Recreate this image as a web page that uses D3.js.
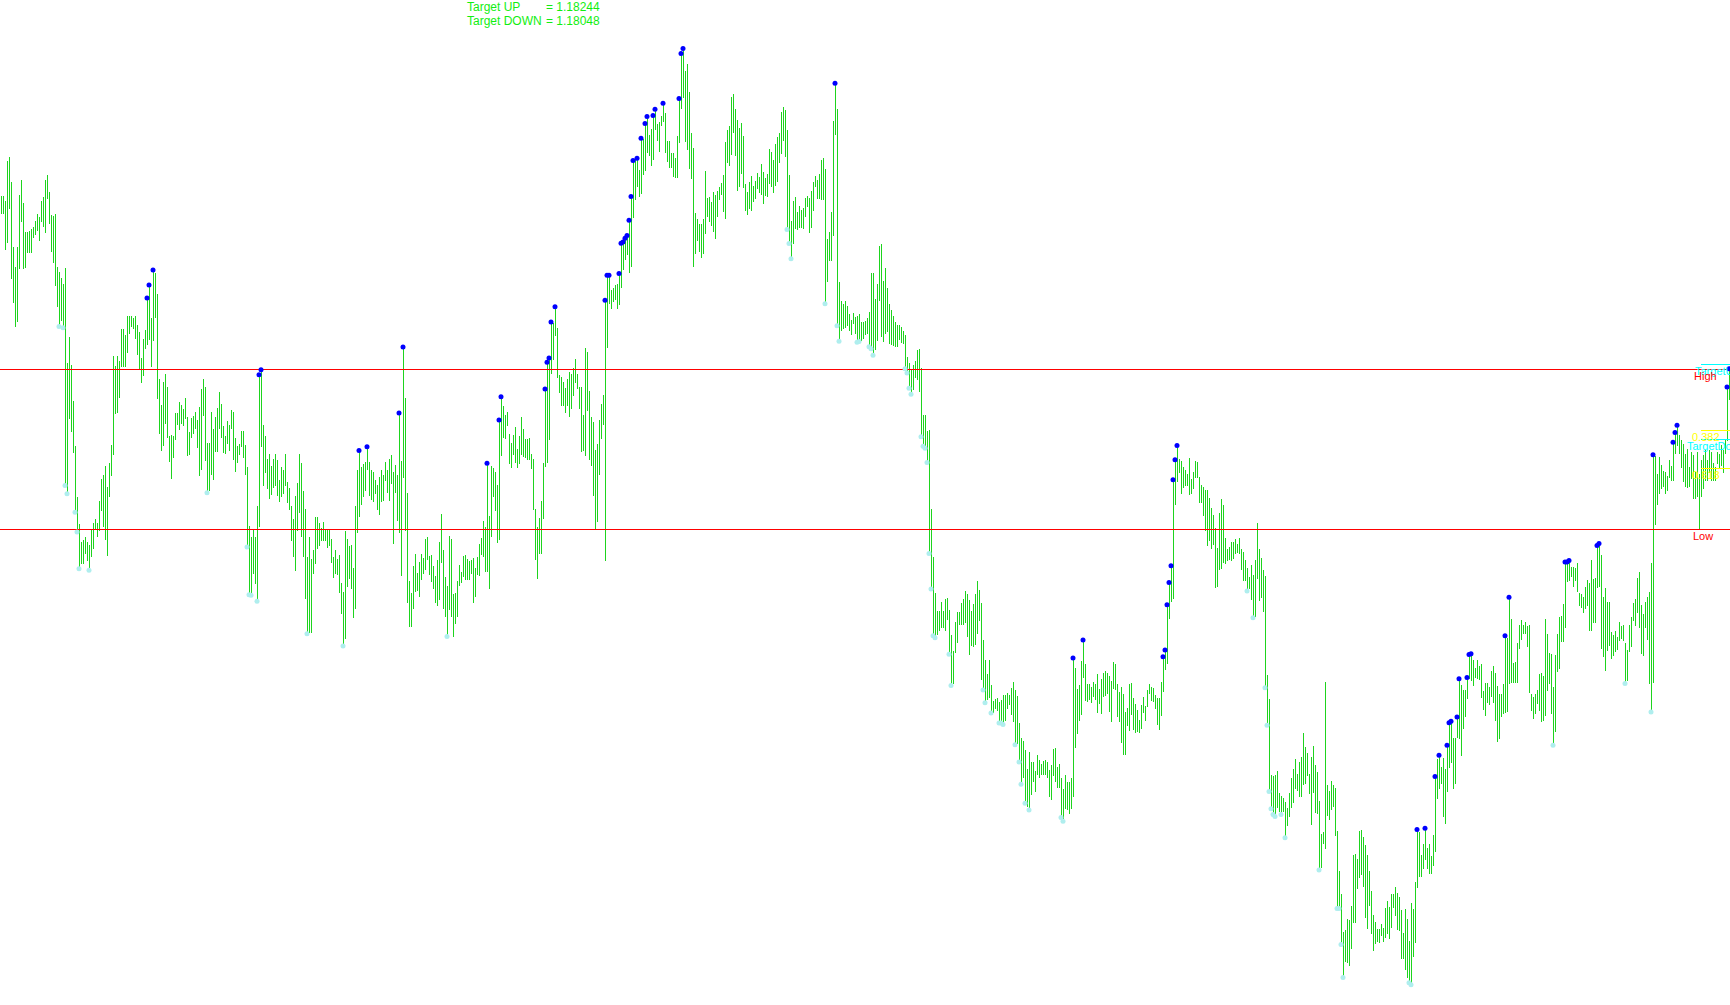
<!DOCTYPE html>
<html>
<head>
<meta charset="utf-8">
<script src="https://cdn.jsdelivr.net/npm/d3@7"></script>
<style>
html,body{margin:0;padding:0;background:#fff;overflow:hidden;}
svg{display:block;}
</style>
</head>
<body>
<svg id="chart" width="1730" height="1005"></svg>
<script>
// Prices are expressed in points (1 point = 0.00001)
const highPts = [
118685,118685,118672,118777,118786,118720,118552,118500,118552,118688,
118725,118665,118591,118589,118594,118599,118604,118620,118638,118629,
118672,118683,118727,118738,118694,118636,118633,118638,118500,118485,
118469,118454,118496,118249,118315,118244,118148,118030,117899,117827,
117781,117786,117792,117779,117771,117815,117831,117841,117831,117888,
117945,117956,117979,117925,117986,118033,118266,118239,118267,118254,
118338,118338,118320,118370,118372,118370,118365,118372,118348,118330,
118262,118311,118334,118418,118452,118365,118491,118483,118427,118205,
118139,118199,118220,118184,118057,118061,118057,118116,118116,118147,
118137,118127,118156,118106,118067,118104,118110,118121,118098,118134,
118181,118207,118186,118040,118040,118121,118075,118106,118130,118173,
118141,118084,118058,118097,118087,118126,118121,118053,118032,118037,
118071,118071,118033,117975,117823,117793,117815,117793,117874,118217,
118230,118087,118057,117996,118011,117979,117996,118009,117995,117941,
117977,117969,118009,117938,117920,
117875,117839,117901,117934,118011,117986,117914,117867,117740,117792,
117735,117759,117845,117846,117831,117818,117833,117814,117815,117814,
117789,117740,117758,117735,117747,117674,117649,117808,117788,117769,
117772,117711,117873,117969,118019,117975,117985,117990,118029,117988,
117967,117962,117941,117930,117951,117969,117956,117988,117967,117998,
118007,117964,117982,117954,118117,117993,118290,118156,117907,117677,
117648,117717,117750,117699,117727,117750,117738,117787,117792,117744,
117745,117718,117692,117732,117779,117853,117758,117688,117666,117797,
117787,117644,117646,117679,117721,117702,117744,117745,117737,117730,
117734,117738,117711,117740,117774,117791,117834,117819,117986,117849,
117978,117974,117962,117928,118099,118160,118135,118113,118119,118062,
118038,118059,118080,118022,118056,118108,118075,118049,118049,118051,
118009,117996,117867,117820,117842,117887,117986,118180,118250,118261,
118355,118352,118395,118339,118216,118212,118199,118183,118205,118224,
118219,118235,118258,118219,118186,
118186,118111,118287,118277,118175,118107,118094,118021,118036,118100,
118142,118164,118412,118477,118477,118438,118443,118453,118455,118482,
118561,118564,118574,118581,118621,118683,118777,118780,118783,118753,
118835,118833,118874,118892,118844,118859,118895,118911,118873,118877,
118893,118927,118901,118829,118827,118798,118798,118783,118842,118939,
119057,119070,119010,119029,118957,118849,118811,118639,118624,118610,
118610,118624,118749,118678,118681,118668,118696,118687,118698,118709,
118718,118738,118826,118857,118868,118943,118950,118912,118884,118862,
118874,118840,118715,118694,118721,118736,118711,118724,118745,118734,
118769,118746,118731,118742,118808,118799,118778,118821,118838,118849,
118904,118917,118908,118857,118740,118618,118671,118681,118642,118658,
118647,118652,118680,118685,118678,118698,118720,118736,118727,118742,
118778,118783,118756,118572,118590,118643,118880,118979,118911,118459,
118409,118402,118409,118397,118376,118360,118378,118369,118372,118376,
118356,118356,118358,118365,118381,
118482,118482,118414,118454,118554,118559,118461,118497,118445,118403,
118386,118372,118354,118347,118346,118341,118332,118320,118264,118249,
118232,118244,118254,118281,118284,118234,118113,118113,118070,118072,
117867,117742,117646,117601,117599,117623,117601,117631,117634,117602,
117536,117494,117572,117596,117597,117622,117632,117653,117644,117629,
117601,117617,117643,117677,117656,117622,117524,117473,117434,117471,
117406,117364,117369,117372,117362,117366,117381,117379,117386,117379,
117398,117414,117394,117377,117306,117267,117261,117237,117187,117232,
117206,117206,117181,117224,117211,117199,117209,117211,117206,117184,
117197,117239,117242,117192,117201,117164,117134,117171,117152,117154,
117164,117477,117452,117397,117406,117469,117524,117462,117409,117409,
117402,117414,117409,117434,117397,117422,117437,117444,117437,117431,
117416,117467,117461,117409,117389,117401,117384,117336,117347,117409,
117412,117372,117357,117342,117314,117354,117374,117352,117394,117409,
117402,117399,117381,117372,117372,
117415,117480,117498,117616,117674,117718,117943,117995,118032,117997,
117991,117976,117967,117957,117999,117944,117962,117993,117988,117949,
117929,117925,117915,117915,117894,117868,117852,117818,117765,117857,
117892,117878,117791,117761,117768,117780,117779,117787,117776,117791,
117763,117754,117734,117711,117689,117719,117695,117732,117831,117763,
117739,117708,117690,117433,117371,117172,117168,117172,117182,117123,
117116,117111,117100,117086,117123,117163,117186,117214,117174,117204,
117219,117282,117245,117229,117174,117218,117247,117198,117179,117102,
117017,117023,117415,117144,117130,117156,117146,117137,117025,116920,
116861,116760,116765,116796,116793,116828,116961,116966,116953,117025,
117028,117009,116987,116961,116920,116869,116805,116786,116770,116768,
116782,116772,116824,116842,116826,116861,116859,116878,116863,116852,
116819,116758,116822,116796,116737,116838,116822,116892,117029,117022,
116961,116992,117032,116980,116992,116959,117015,117167,117212,117223,
117193,117215,117188,117249,117308,
117312,117268,117268,117323,117423,117406,117393,117393,117426,117486,
117488,117471,117452,117473,117455,117461,117390,117412,117412,117401,
117443,117455,117438,117403,117384,117382,117410,117535,117528,117636,
117580,117464,117467,117515,117564,117575,117562,117571,117560,117562,
117384,117375,117384,117394,117436,117438,117429,117580,117541,117490,
117488,117401,117484,117541,117584,117586,117619,117728,117728,117732,
117715,117715,117711,117724,117647,117645,117636,117663,117682,117673,
117732,117684,117686,117771,117776,117745,117636,117661,117623,117623,
117545,117536,117547,117532,117571,117560,117562,117515,117499,117562,
117584,117622,117632,117686,117701,117615,117593,117623,117636,117650,
117725,118008,118004,117959,118002,117981,117965,117963,117952,117994,
117979,118041,118066,118085,118059,118046,118037,118011,118024,117976,
118015,118007,117963,118015,117959,117994,118007,118020,117994,118020,
118015,117987,117976,118015,118011,118033,118020,118050,118185,118233
];
const lowPts = [
118638,118638,118545,118563,118651,118468,118407,118344,118357,118494,
118618,118494,118498,118537,118537,118537,118575,118585,118594,118568,
118618,118604,118590,118678,118613,118540,118511,118450,118396,118347,
118359,118344,117932,117910,118102,118069,118015,117862,117810,117714,
117723,117725,117751,117732,117710,117742,117764,117814,117795,117810,
117862,117821,117786,117746,117900,117954,118010,118117,118119,118158,
118239,118239,118239,118276,118326,118344,118338,118313,118271,118230,
118198,118215,118286,118296,118309,118239,118308,118367,118154,118064,
118020,118032,118091,118054,117991,117947,118002,118047,118087,118075,
118089,118084,118104,118005,118009,118054,118064,118078,118028,117954,
117969,118110,117993,117913,117915,117956,117944,118016,118016,118076,
118054,118015,118012,118037,118020,118077,117996,117964,117989,118009,
118030,118000,117957,117771,117646,117645,117697,117671,117629,117821,
118030,117929,117962,117921,117895,117904,117923,117928,117902,117887,
117900,117907,117929,117884,117866,
117784,117743,117705,117810,117858,117794,117743,117633,117544,117544,
117544,117697,117725,117764,117771,117785,117784,117784,117766,117771,
117727,117688,117698,117695,117649,117592,117512,117527,117664,117686,
117659,117583,117607,117806,117847,117877,117900,117914,117969,117901,
117891,117887,117906,117865,117852,117887,117888,117941,117910,117888,
117932,117777,117909,117836,117806,117692,117949,117810,117623,117560,
117560,117607,117650,117654,117638,117683,117698,117708,117735,117695,
117677,117659,117623,117613,117629,117727,117607,117586,117537,117605,
117586,117534,117566,117586,117667,117675,117691,117682,117683,117683,
117699,117621,117638,117694,117693,117747,117742,117704,117704,117659,
117795,117900,117862,117778,117786,118006,118052,118051,118084,117986,
117975,118008,117988,117975,117984,118010,118004,118001,117995,117995,
117973,117866,117735,117686,117749,117749,117842,117977,117988,118047,
118221,118258,118319,118211,118171,118137,118138,118119,118137,118109,
118128,118163,118197,118182,118130,
118016,118018,118006,118124,117997,117981,117901,117815,117833,117956,
118051,118087,117732,118288,118403,118390,118409,118413,118390,118400,
118444,118491,118518,118531,118484,118499,118628,118676,118708,118683,
118690,118740,118751,118798,118789,118764,118780,118858,118829,118800,
118868,118879,118798,118774,118758,118758,118736,118734,118734,118824,
118912,118942,118826,118806,118755,118731,118499,118535,118568,118540,
118524,118533,118586,118632,118618,118608,118592,118572,118630,118674,
118687,118643,118625,118771,118765,118793,118851,118791,118698,118708,
118743,118706,118647,118635,118652,118646,118670,118677,118705,118694,
118687,118664,118685,118683,118718,118708,118693,118711,118723,118771,
118796,118829,118787,118601,118564,118524,118559,118599,118596,118603,
118602,118599,118630,118656,118590,118602,118646,118708,118678,118677,
118674,118674,118407,118462,118517,118517,118580,118846,118349,118309,
118334,118338,118340,118346,118334,118323,118352,118325,118306,118308,
118307,118312,118323,118324,118294,
118289,118272,118284,118307,118411,118317,118304,118326,118329,118299,
118297,118294,118292,118291,118309,118302,118299,118237,118226,118186,
118170,118179,118211,118204,118174,118059,118034,118029,117992,117754,
117661,117539,117534,117539,117549,117557,117557,117549,117577,117491,
117409,117411,117491,117517,117564,117564,117564,117571,117534,117486,
117509,117506,117512,117541,117574,117422,117397,117364,117369,117374,
117337,117334,117344,117339,117311,117311,117307,117314,117344,117356,
117330,117312,117254,117254,117209,117151,117164,117101,117089,117084,
117119,117154,117127,117172,117164,117172,117172,117172,117164,117116,
117106,117169,117154,117139,117139,117064,117054,117084,117081,117071,
117084,117116,117244,117279,117314,117329,117427,117367,117364,117369,
117362,117376,117369,117334,117359,117332,117377,117379,117384,117336,
117312,117397,117394,117324,117312,117257,117224,117224,117301,117287,
117329,117289,117282,117284,117281,117294,117334,117314,117349,117384,
117367,117364,117344,117304,117289,
117327,117389,117447,117462,117581,117625,117633,117878,117939,117962,
117908,117922,117929,117929,117903,117907,117920,117948,117949,117883,
117883,117849,117810,117771,117784,117763,117773,117660,117663,117709,
117712,117726,117724,117731,117735,117731,117738,117749,117754,117749,
117709,117679,117679,117656,117658,117629,117586,117586,117686,117628,
117635,117598,117403,117305,117132,117087,117072,117067,117086,117076,
117072,117076,117011,117039,117062,117086,117100,117137,117132,117114,
117114,117146,117148,117170,117123,117043,117126,117072,117070,116927,
116929,116992,116978,117065,117056,117081,117090,117013,116826,116826,
116732,116646,116684,116682,116674,116718,116786,116786,116875,116903,
116910,116880,116800,116770,116831,116756,116712,116730,116735,116733,
116752,116735,116747,116758,116744,116772,116826,116805,116768,116765,
116691,116691,116663,116641,116632,116627,116698,116733,116877,116906,
116905,116927,116950,116927,116914,116913,116936,116971,117109,117137,
117148,117064,117045,117128,117191,
117203,117137,117149,117268,117266,117223,117292,117323,117371,117423,
117419,117406,117427,117423,117420,117373,117342,117327,117362,117356,
117377,117362,117314,117258,117266,117323,117332,117334,117336,117410,
117414,117412,117414,117414,117501,117525,117541,117541,117508,117388,
117339,117319,117332,117358,117340,117310,117314,117327,117393,117410,
117332,117253,117285,117443,117449,117519,117519,117558,117676,117680,
117689,117663,117680,117650,117613,117610,117597,117606,117615,117549,
117549,117571,117571,117661,117663,117503,117480,117445,117497,117510,
117475,117484,117493,117499,117523,117528,117523,117414,117419,117493,
117506,117575,117562,117597,117558,117488,117484,117558,117525,117410,
117340,117412,117825,117879,117906,117920,117924,117908,117915,117950,
117940,117941,118011,118033,118011,117976,117937,117924,117922,117924,
117946,117895,117895,117898,117813,117898,117920,117941,117941,117963,
117941,117941,117940,117985,117976,117981,117963,118011,118046,118152
];
// bars flagged by the up-marker (blue) at their high and the down-marker (pale) at their low
const upMarks = [73,74,76,129,130,179,183,199,201,243,249,250,272,273,274,275,277,
302,303,304,309,310,311,312,313,314,315,316,318,320,322,323,326,327,331,339,340,341,417,
536,541,581,582,583,584,585,586,587,588,708,712,717,719,723,724,
725,728,729,733,734,735,752,754,782,783,784,798,799,826,836,837,838,863,864];
const downMarks = [29,31,32,33,37,38,39,44,103,123,124,125,128,153,171,223,
393,394,395,412,418,419,428,429,434,435,436,452,453,454,455,460,461,462,463,464,465,466,467,
474,475,491,492,495,499,500,501,507,509,510,512,514,530,531,
623,626,632,633,634,635,636,637,640,642,659,668,669,670,671,704,705,776,812,825];

const targetUp = 118244;
const targetDown = 118048;
const dayHigh = 118231;
const dayLow = 117813;
const fibRatios = [0.382, 0.618];

const W = 1730, H = 1005;
const svg = d3.select('#chart');
svg.append('rect').attr('width', W).attr('height', H).attr('fill', '#ffffff');

const x = d3.scaleLinear().domain([0, highPts.length - 1]).range([1.5, 1729.5]);
const y = d3.scaleLinear().domain([targetDown, targetUp]).range([439.5, 364.5]);

const bars = highPts.map((h, i) => ({i, h, l: lowPts[i]}));

svg.append('g').selectAll('line').data(bars).join('line')
  .attr('x1', d => x(d.i)).attr('x2', d => x(d.i))
  .attr('y1', d => y(d.h)).attr('y2', d => y(d.l) + 0.5)
  .attr('stroke', '#1ed41e').attr('stroke-width', 1)
  .attr('shape-rendering', 'crispEdges');

// red High / Low levels
svg.append('g').selectAll('line').data([dayHigh, dayLow]).join('line')
  .attr('x1', 0).attr('x2', W)
  .attr('y1', d => y(d)).attr('y2', d => y(d))
  .attr('stroke', '#ff0000').attr('stroke-width', 1)
  .attr('shape-rendering', 'crispEdges');

// markers
svg.append('g').selectAll('circle').data(downMarks).join('circle')
  .attr('cx', d => x(d) - 0.5).attr('cy', d => y(lowPts[d]) + 1.5)
  .attr('r', 2.5).attr('fill', '#afeeee');
svg.append('g').selectAll('circle').data(upMarks).join('circle')
  .attr('cx', d => x(d) - 0.5).attr('cy', d => y(highPts[d]))
  .attr('r', 2.5).attr('fill', '#0000ff');

// right-side levels
const fibLevels = fibRatios.map(r => ({r, v: dayHigh - r * (dayHigh - dayLow)}));
const shortLines = [
  {v: targetUp, c: '#00ffff'},
  {v: targetDown, c: '#00ffff'},
  ...fibLevels.map(f => ({v: f.v, c: '#ffff00'}))
];
svg.append('g').selectAll('line').data(shortLines).join('line')
  .attr('x1', 1701).attr('x2', W)
  .attr('y1', d => y(d.v)).attr('y2', d => y(d.v))
  .attr('stroke', d => d.c).attr('stroke-width', 1)
  .attr('shape-rendering', 'crispEdges');

const labels = [
  {t: 'TargetUp', v: targetUp, x: 1695, c: '#00ffff'},
  {t: 'High', v: dayHigh, x: 1694, c: '#ff0000'},
  {t: fibLevels[0].r.toFixed(3), v: fibLevels[0].v, x: 1692, c: '#ffff00'},
  {t: 'TargetDown', v: targetDown, x: 1687, c: '#00ffff'},
  {t: fibLevels[1].r.toFixed(3), v: fibLevels[1].v, x: 1692, c: '#ffff00'},
  {t: 'Low', v: dayLow, x: 1693, c: '#ff0000'}
];
svg.append('g').selectAll('text').data(labels).join('text')
  .attr('x', d => d.x).attr('y', d => y(d.v) + 10.5)
  .attr('fill', d => d.c)
  .attr('font-family', 'Liberation Sans, Arial, sans-serif')
  .attr('font-size', 11)
  .text(d => d.t);

// top info text
const info = [
  {t: 'Target UP', v: targetUp, yy: 11},
  {t: 'Target DOWN', v: targetDown, yy: 25}
];
const gi = svg.append('g').attr('font-family', 'Liberation Sans, Arial, sans-serif')
  .attr('font-size', 12).attr('fill', '#11ee11');
gi.selectAll('text.k').data(info).join('text').attr('class', 'k')
  .attr('x', 467).attr('y', d => d.yy).text(d => d.t);
gi.selectAll('text.v').data(info).join('text').attr('class', 'v')
  .attr('x', 546).attr('y', d => d.yy).text(d => '= ' + (d.v / 100000).toFixed(5));
</script>
</body>
</html>
